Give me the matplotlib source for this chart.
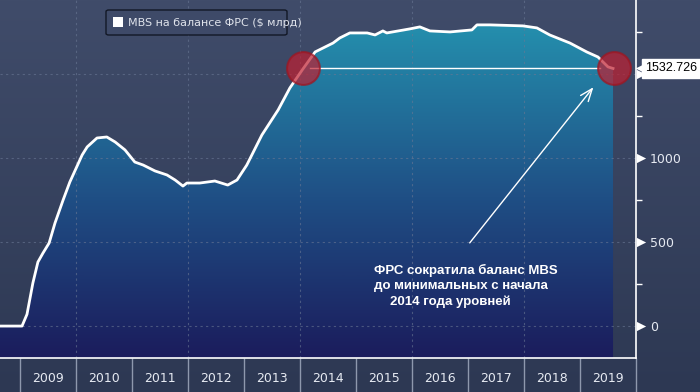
import numpy as np
import matplotlib
matplotlib.use("Agg")
import matplotlib.pyplot as plt
from matplotlib.colors import LinearSegmentedColormap
from matplotlib.patches import FancyBboxPatch, Rectangle

# ---- data ----
years = [2008.64, 2009.036, 2009.125, 2009.23, 2009.32, 2009.41, 2009.52, 2009.625,
         2009.77, 2009.89, 2010.11, 2010.20, 2010.375, 2010.55, 2010.70, 2010.875,
         2011.05, 2011.20, 2011.41, 2011.625, 2011.77, 2011.91, 2011.98, 2012.21,
         2012.48, 2012.71, 2012.875, 2013.05, 2013.32, 2013.61, 2013.82, 2014.04,
         2014.27, 2014.59, 2014.71, 2014.89, 2015.20, 2015.34, 2015.48, 2015.55,
         2015.96, 2016.14, 2016.32, 2016.68, 2017.07, 2017.16, 2017.39, 2017.98,
         2018.23, 2018.46, 2018.82, 2019.12, 2019.32, 2019.50, 2019.59]
mbs = [0, 0, 70, 256, 381, 434, 494, 613,
       750, 857, 1018, 1066, 1119, 1125, 1095, 1048,
       976, 958, 923, 899, 869, 833, 851, 851,
       863, 839, 869, 958, 1137, 1286, 1417, 1524,
       1631, 1684, 1714, 1744, 1744, 1732, 1756, 1744,
       1768, 1780, 1756, 1750, 1762, 1792, 1792, 1786,
       1774, 1732, 1684, 1631, 1601, 1542, 1532.726]
last_value = 1532.726
year_labels = ["2009", "2010", "2011", "2012", "2013", "2014",
               "2015", "2016", "2017", "2018", "2019"]
y_major = [0, 500, 1000, 1500]
y_minor = [250, 750, 1250, 1750]
legend_label = "MBS на балансе ФРС ($ млрд)"
note_lines = ["ФРС сократила баланс MBS", "до минимальных с начала", "2014 года уровней"]

W, H = 700, 392
fig = plt.figure(figsize=(7, 3.92), dpi=100)

# background gradient
bg = fig.add_axes([0, 0, 1, 1], zorder=-5)
bg_cmap = LinearSegmentedColormap.from_list("bg", ["#2d3853", "#404c6a"])
bg.imshow(np.linspace(0, 1, 256).reshape(-1, 1), aspect="auto", cmap=bg_cmap,
          origin="lower", extent=[0, 1, 0, 1])
bg.set_axis_off()

ax = fig.add_axes([0, (H - 358) / H, 636 / W, 358 / H])
ax.patch.set_alpha(0)

x0, x1 = 2008.643, 2020.0
y0, y1 = -190, 1940
ax.set_xlim(x0, x1)
ax.set_ylim(y0, y1)

# gradient area fill
fill_cmap = LinearSegmentedColormap.from_list(
    "fill", [(0, "#1b1c5c"), (0.45, "#1f4f85"), (1.0, "#2598b3")])
poly = ax.fill_between(years, mbs, y0, color="none", lw=0)
img = ax.imshow(np.linspace(0, 1, 256).reshape(-1, 1), aspect="auto", cmap=fill_cmap,
                origin="lower", extent=[x0, x1, y0, y1], zorder=1)
img.set_clip_path(poly.get_paths()[0], transform=ax.transData)

# grid
gcol = "#6a7894"
for v in y_major:
    ax.axhline(v, color=gcol, lw=0.8, ls=(0, (2, 3)), alpha=0.6, zorder=2)
for yr in [2010, 2012, 2014, 2016, 2018]:
    ax.axvline(yr, color=gcol, lw=0.8, ls=(0, (2, 3)), alpha=0.6, zorder=2)

# line
ax.plot(years, mbs, color="white", lw=2, zorder=4, solid_joinstyle="round")

# horizontal reference line and circles
ax.plot([2014.18, 2019.36], [last_value, last_value], color="white", lw=1, zorder=4)
ax.scatter([2014.05, years[-1] + 0.01], [last_value, last_value], s=560,
           color="#c01f30", alpha=0.7, edgecolor="#a0141f", linewidth=1.5, zorder=5)

# arrow + note
ax.annotate("", xy=(2019.27, 1434), xytext=(2017.00, 482),
            arrowprops=dict(arrowstyle="->,head_length=0.9,head_width=0.35",
                            color="white", lw=1), zorder=6)
tx = lambda px: x0 + px / 56.0
ty = lambda py: (326 - py) * 500 / 84
for (px, py), line in zip([(374, 270), (374, 286), (390, 302)], note_lines):
    ax.text(tx(px), ty(py), line, color="white", fontsize=9.5, fontweight="bold",
            family="Liberation Sans", va="center", ha="left", zorder=6)

# spines
for s in ["left", "top"]:
    ax.spines[s].set_visible(False)
ax.spines["right"].set_color("white")
ax.spines["bottom"].set_color("white")
ax.spines["right"].set_linewidth(1.2)
ax.spines["bottom"].set_linewidth(1.2)

# x axis: separators at year starts, labels at mid-year
ax.set_xticks(range(2009, 2021))
ax.set_xticklabels([])
ax.tick_params(axis="x", which="major", length=25, width=1, color="#8e98ad", direction="out")
ax.set_xticks([2009.5 + i for i in range(len(year_labels))], minor=True)
ax.set_xticklabels(year_labels, minor=True)
ax.tick_params(axis="x", which="minor", length=0, pad=10, labelsize=9, labelcolor="#e6eaf2")

# y axis on right
ax.yaxis.tick_right()
ax.set_yticks(y_major)
ax.set_yticklabels([str(v) for v in y_major])
ax.set_yticks(y_minor, minor=True)
ax.tick_params(axis="y", which="major", length=0, pad=10, labelsize=9, labelcolor="#e6eaf2")
ax.tick_params(axis="y", which="minor", length=4, width=1, color="white")
ax.scatter([x1 + 4.5 / 56] * len(y_major), y_major, marker=">", s=45, color="white",
           clip_on=False, zorder=7, linewidths=0)

# last value box
ax.scatter([x1 + 5 / 56], [last_value], marker="<", s=70, color="white",
           clip_on=False, zorder=9, linewidths=0)
ax.text(x1 + 9 / 56, last_value, f"{last_value:.3f}", color="black", fontsize=9,
        family="Liberation Sans", va="center", ha="left", clip_on=False, zorder=10,
        bbox=dict(boxstyle="square,pad=0.25", facecolor="white", edgecolor="white"))

# legend
fig.patches.append(FancyBboxPatch((106 / W, 1 - 35 / H), 181 / W, 25 / H,
                                  boxstyle="round,pad=0,rounding_size=0.004",
                                  transform=fig.transFigure, facecolor="#3e4a68",
                                  edgecolor="#121826", lw=1, zorder=20))
fig.patches.append(Rectangle((113 / W, 1 - 27 / H), 10 / W, 10 / H,
                             transform=fig.transFigure, facecolor="white",
                             edgecolor="none", zorder=21))
fig.text(128 / W, 1 - 22.5 / H, legend_label, color="#dfe3eb", fontsize=8,
         va="center", ha="left", zorder=22)

fig.savefig("out.png", dpi=100)
